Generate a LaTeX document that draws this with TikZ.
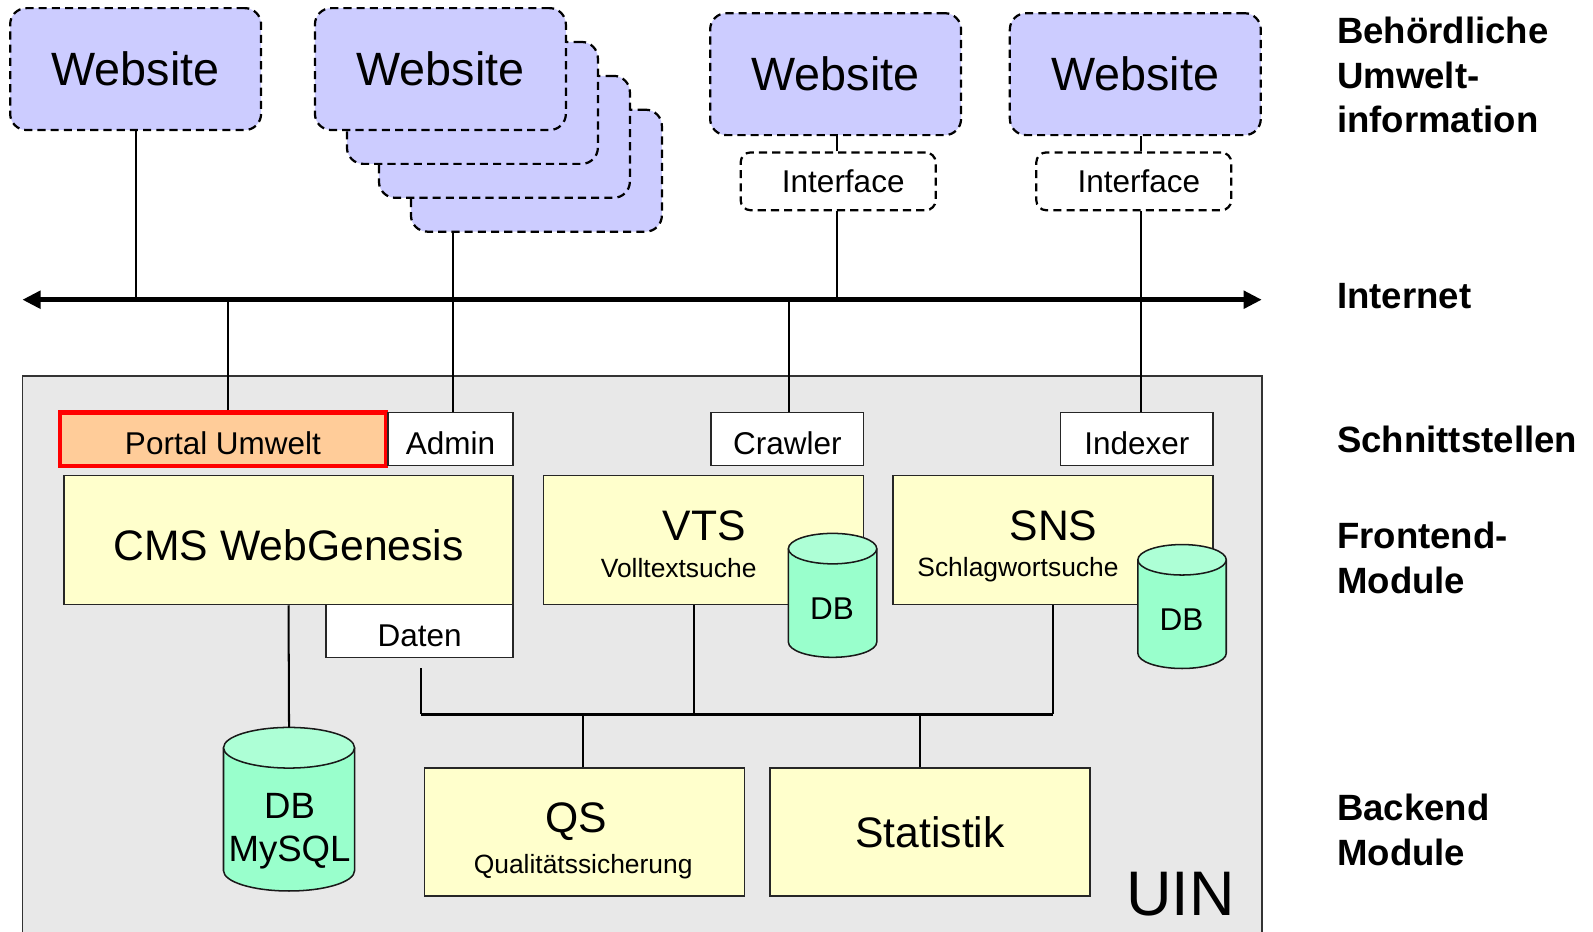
\documentclass[tikz,border=0pt]{standalone}
\usepackage{fontspec}
\setmainfont{Liberation Sans}
\usetikzlibrary{arrows.meta,calc}
\definecolor{webfill}{HTML}{CCCCFF}
\definecolor{uingray}{HTML}{E8E8E8}
\definecolor{modfill}{HTML}{FFFFCC}
\definecolor{portalfill}{HTML}{FFCC99}
\definecolor{dbbody}{HTML}{99FFCC}
\definecolor{dbtop}{HTML}{ADFFD6}
\newcommand\FS[1]{\fontsize{#1}{#1}\selectfont}
\newcommand\dbcyl[3]{%
 \fill[dbbody] ($(#1.north west)+(0,#3)$) rectangle ($(#1.south east)+(0,-#3)$);
 \fill[dbbody] ($(#1.south)+(0,-#3)$) ellipse[x radius=#2, y radius=#3];
 \draw[dbline] ($(#1.north west)+(0,#3)$) -- ($(#1.south west)+(0,-#3)$) arc[start angle=180,end angle=0,x radius=#2,y radius=#3] -- ($(#1.north east)+(0,#3)$);
 \filldraw[dbline,fill=dbtop] ($(#1.north)+(0,#3)$) ellipse[x radius=#2, y radius=#3];
}
\begin{document}
\begin{tikzpicture}[x=1pt,y=-1pt,
  webbox/.style={draw=black, line width=2.2pt, dash pattern=on 8pt off 5pt, rounded corners=16pt, fill=webfill, minimum width=247pt, minimum height=120pt, inner sep=0pt, font=\FS{46}},
  ifbox/.style={draw=black, line width=2.2pt, dash pattern=on 8pt off 5pt, rounded corners=10pt, fill=white, minimum width=192pt, minimum height=57pt, inner sep=0pt, font=\FS{31}},
  smallbox/.style={draw=black!85, line width=1.5pt, fill=white, inner sep=0pt, minimum height=52pt, font=\FS{31}, text height=30pt, text depth=0pt},
  modbox/.style={draw=black!85, line width=1.5pt, fill=modfill, inner sep=0pt, minimum width=315pt, minimum height=127pt},
  holder/.style={inner sep=0pt, outer sep=0pt},
  conn/.style={line width=2pt},
  bus/.style={line width=3pt},
  dbline/.style={line width=1.5pt, draw=black!90},
  netarrow/.style={line width=5pt, {Triangle[length=18pt,width=17pt]}-{Triangle[length=18pt,width=17pt]}},
  sidelabel/.style={anchor=west, inner sep=0pt, align=left, font=\fontsize{36}{44}\selectfont\bfseries}
]
\useasboundingbox (0,0) rectangle (1568,917);
\clip (0,0) rectangle (1568,917);

% UIN container
\path[draw=black!80, line width=1.5pt, fill=uingray] (22,370) rectangle (1242,935);

% Websites
\node[webbox] (w1) at (133.5,68) {Website};
\node[webbox] (w2d) at (528,168) {};
\node[webbox] (w2c) at (496.5,134.7) {};
\node[webbox] (w2b) at (465,101.3) {};
\node[webbox] (w2) at (433.5,68) {Website};
\node[webbox] (w3) at (822.5,73) {Website};
\node[webbox] (w4) at (1117.5,73) {Website};
\node[ifbox] (if1) at (825,178.5) {\hspace*{10pt}Interface};
\node[ifbox] (if2) at (1116,178.5) {\hspace*{10pt}Interface};

% Internet
\coordinate (netL) at (22,295);
\coordinate (netR) at (1242,295);

% Interfaces
\node[smallbox, draw=red, line width=4pt, fill=portalfill, minimum width=321pt, minimum height=53pt] (portal) at (219.5,432.5) {Portal Umwelt};
\node[smallbox, minimum width=123pt] (admin) at (443.5,432) {Admin};
\node[smallbox, minimum width=150pt] (crawler) at (775,432) {Crawler};
\node[smallbox, minimum width=150pt] (indexer) at (1119,432) {Indexer};

% Frontend modules
\node[modbox, minimum width=442pt, font=\FS{42}, text height=41pt, text depth=0pt] (cms) at (284,531.5) {CMS WebGenesis};
\node[smallbox, minimum width=184pt] (daten) at (413,621) {Daten};
\node[modbox] (vts) at (692.5,531.5) {};
\node[font=\FS{42}] (vtst) at (693,518) {VTS};
\node[font=\FS{26}] (vtss) at (668,559) {Volltextsuche};
\node[modbox] (sns) at (1036.5,531.5) {};
\node[font=\FS{42}] (snst) at (1037,518) {SNS};
\node[font=\FS{26}] (snss) at (1002,561) {Schlagwortsuche};

% DB cylinders
\node[holder, minimum width=87pt, minimum height=122pt] (dbv) at (819.5,586) {};
\dbcyl{dbv}{43.5}{15}
\node[font=\FS{31}] (dbvt) at (819,599) {DB};
\node[holder, minimum width=87pt, minimum height=122pt] (dbs) at (1163.5,597) {};
\dbcyl{dbs}{43.5}{15}
\node[font=\FS{31}] (dbst) at (1163,610) {DB};
\node[holder, minimum width=129pt, minimum height=161pt] (mysql) at (284.5,796.5) {};
\dbcyl{mysql}{64.5}{20}
\node[align=center, font=\fontsize{36}{42}\selectfont] (mysqlt) at (285,818) {DB\\MySQL};

% Backend modules
\node[modbox, minimum height=126pt] (qs) at (575.5,819) {};
\node[font=\FS{42}] (qst) at (567,809) {QS};
\node[font=\FS{26}] (qss) at (574,853) {Qualitätssicherung};
\node[modbox, minimum height=126pt, font=\FS{42}] (stat) at (915.5,819) {Statistik};

\node[font=\FS{62}] (uin) at (1162,880) {UIN};

% connectors top
\draw[conn] (w1.south) -- (w1.south |- netL);
\draw[conn] ($(admin.north)+(2.5,0)$) coordinate (adminup) -- (adminup |- w2d.south);
\draw[conn] ($(if1.north)+(-1,0)$) coordinate (if1up) -- (if1up |- w3.south);
\draw[conn] ($(if1.south)+(-1,0)$) coordinate (if1down) -- (if1down |- netL);
\draw[conn] ($(indexer.north)+(4,0)$) coordinate (idxup) -- (idxup |- if2.south);
\draw[conn] (idxup |- if2.north) -- (idxup |- w4.south);
\draw[conn] ($(portal.north)+(4.5,0)$) coordinate (portalup) -- (portalup |- netL);
\draw[conn] ($(crawler.north)+(2,0)$) coordinate (crawlerup) -- (crawlerup |- netL);
\draw[netarrow] (netL) -- (netR);

% connectors bottom
\coordinate (busL) at (414,703);
\coordinate (busR) at (1036.5,703);
\draw[conn] (cms.south) -- (mysql.north);
\draw[conn] ($(daten.south)+(1,10)$) -- (busL);
\draw[conn] ($(vts.south)+(-9.5,0)$) coordinate (vtsdown) -- (vtsdown |- busL);
\draw[conn] (sns.south) -- (sns.south |- busL);
\draw[conn] ($(qs.north)+(-1.5,0)$) coordinate (qsup) -- (qsup |- busL);
\draw[conn] ($(stat.north)+(-9.5,0)$) coordinate (statup) -- (statup |- busL);
\draw[bus] (busL) -- (busR);

% side labels
\node[sidelabel] (lbl1) at (1316,74) {Behördliche\\Umwelt-\\information};
\node[sidelabel] (lbl2) at (1316,291) {Internet};
\node[sidelabel] (lbl3) at (1316,433) {Schnittstellen};
\node[sidelabel] (lbl4) at (1316,549) {Frontend-\\Module};
\node[sidelabel] (lbl5) at (1316,817) {Backend\\Module};
\end{tikzpicture}
\end{document}
